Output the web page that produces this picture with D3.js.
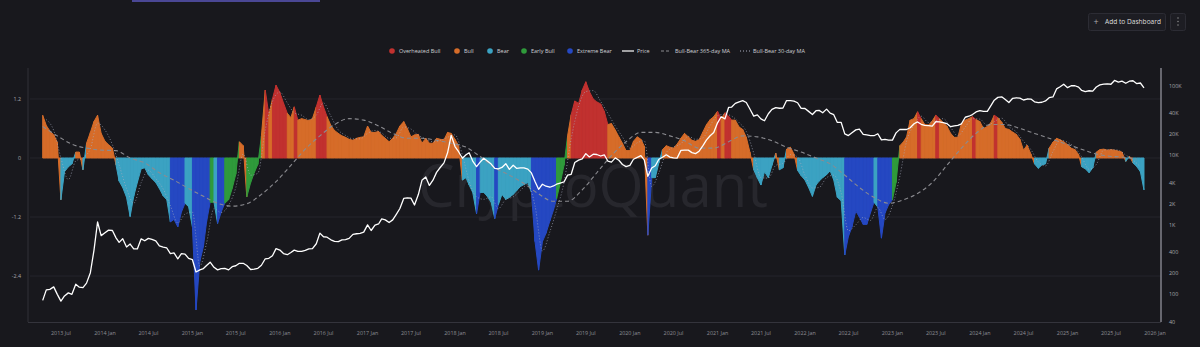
<!DOCTYPE html>
<html><head><meta charset="utf-8">
<script src="https://cdn.jsdelivr.net/npm/d3@7"></script>
<style>html,body{margin:0;padding:0;background:#18181d;overflow:hidden}</style>
</head><body><svg id="c" width="1200" height="347"></svg>
<script>
// Bull-Bear indicator, semi-monthly (16th / 1st), starting 2013-04-16
const indicatorValues = [
0.87,0.66,0.55,0.47,0.32,-0.85,-0.28,-0.18,-0.12,0.12,
0.12,-0.24,0.3,0.52,0.74,0.87,0.5,0.34,0.27,0.2,
-0.14,-0.47,-0.6,-0.8,-1.19,-0.78,-0.5,-0.22,-0.2,-0.34,
-0.42,-0.5,-0.62,-0.77,-0.85,-1.3,-1.25,-1.4,-1.1,-0.92,
-0.99,-1.4,-3.09,-2.1,-1.8,-1.3,-0.9,-0.9,-1.33,-1.1,
-0.92,-0.85,-0.62,-0.33,0.33,0.25,-0.79,-0.5,-0.3,-0.13,
0.45,1.38,0.88,1.2,1.48,1.33,1.12,0.91,0.82,1.04,
0.77,0.8,0.78,0.76,0.8,1.04,1.28,1.04,0.84,0.66,
0.56,0.5,0.45,0.42,0.38,0.36,0.4,0.42,0.43,0.65,
0.52,0.52,0.54,0.46,0.4,0.33,0.4,0.5,0.65,0.74,
0.6,0.43,0.47,0.48,0.3,0.4,0.3,0.3,0.4,0.38,
0.37,0.52,0.5,0.38,0.25,-0.45,-0.4,-0.55,-0.7,-1.13,
-0.7,-0.7,-0.78,-0.9,-1.23,-0.95,-0.74,-0.84,-0.8,-0.74,
-0.66,-0.58,-0.54,-0.5,-0.7,-1.7,-2.28,-1.7,-1.53,-1.28,
-1.06,-0.83,-0.52,-0.15,0.45,0.88,1.16,1.11,1.38,1.55,
1.35,1.2,1.14,1.1,0.95,0.68,0.7,0.57,0.43,0.3,
0.15,0.15,0.34,0.43,0.38,0.24,-1.57,-0.4,-0.4,-0.1,
0.17,0.25,0.22,0.2,0.28,0.4,0.5,0.43,0.36,0.34,
0.37,0.53,0.68,0.78,0.84,0.95,0.8,0.92,0.85,0.77,
0.77,0.63,0.58,0.42,0.12,-0.24,-0.4,-0.55,-0.28,-0.4,
-0.15,0.1,-0.24,-0.2,0.18,0.22,0.08,-0.25,-0.36,-0.45,
-0.6,-0.78,-0.55,-0.47,-0.4,-0.34,-0.26,-0.45,-0.8,-0.87,
-1.97,-1.6,-1.4,-1.08,-1.2,-1.35,-1.35,-1.12,-0.9,-1.0,
-1.63,-1.12,-0.95,-0.85,-0.5,0.25,0.33,0.43,0.77,0.8,
0.94,0.8,0.68,0.67,0.75,0.87,0.8,0.72,0.65,0.5,
0.42,0.42,0.7,0.77,0.8,0.84,0.78,0.74,0.6,0.64,
0.72,0.87,0.82,0.73,0.6,0.58,0.53,0.48,0.38,0.16,
0.26,0.08,-0.12,-0.21,-0.14,-0.12,0.2,0.32,0.4,0.37,
0.33,0.27,0.2,0.17,0.07,-0.18,-0.22,-0.3,-0.2,0.12,
0.17,0.18,0.16,0.17,0.16,0.14,0.12,-0.07,0.04,-0.1,
-0.17,-0.28,-0.65];
// O = Overheated Bull, B = Bull, R = Bear, E = Early Bull, X = Extreme Bear
const regimeCodes =
"BBBBBRRRRB"+"BRBBBBBBBB"+"RRRRRRRRRR"+"RRRRRXXXXR"+"RXXXXXERXX"+
"EEEEBBEEEE"+"BOBOOOOBBO"+"BBBBBOOOBB"+"BBBBBBBBBB"+"BBBBBBBBBB"+
"BBBBBBBBBB"+"BBBBBRRRRX"+"RRRRXRRRRR"+"RRRRXXXXXX"+"XEEEBOOOOO"+
"OOOOOBBBBB"+"BBBBBBXRRR"+"BBBBBBBBBB"+"BBBBBOBOOB"+"BBBBBRRRRR"+
"RBRRBBBRRR"+"RRRRRRRRRR"+"XXXXXXXXRX"+"XXXEEBBBBB"+"OBBBBOBBBB"+
"BBBBBOBBBB"+"BOBBBBBBBB"+"BBRRRRBBBB"+"BBBBBRRRRB"+"BBBBBBBRBR"+"RRR";
// BTC price, same semi-monthly dates
const priceValues = [
82,116,118,128,100,80,95,105,100,140,127,125,145,205,430,1100,700,
770,840,830,650,560,630,480,530,450,450,630,590,640,620,590,500,480,465,385,395,325,385,380,330,
315,210,225,235,260,290,245,225,235,237,225,250,258,280,280,260,228,230,237,262,325,330,360,455,
434,387,372,400,433,415,416,430,450,455,535,760,675,665,610,580,575,608,615,640,730,745,755,785,
1000,830,990,1030,1220,1180,1080,1180,1420,1720,2400,2450,2430,1930,2730,4380,4900,3700,4400,5700,6750,7800,10900,19400,
13400,11300,9100,10200,10900,8300,6900,8000,9100,8300,7500,6500,6400,6700,7600,6300,7200,6500,6600,6600,6350,5600,4200,3250,
3850,3600,3480,3630,3850,4000,4150,5200,5350,7900,8550,8900,10600,9500,10400,10300,9800,10200,8300,8000,9200,8500,7400,6900,
7200,8800,9350,9900,8600,5000,6600,7100,8800,9400,10200,9450,9230,9130,11800,11900,11900,10950,10600,11500,13800,16700,19200,21300,
29400,36000,33500,49000,49600,56000,59000,61500,57800,46500,36700,38300,33500,31500,39800,45900,48800,47700,48100,61500,61300,60300,57200,47600,
47300,43000,38700,44000,44400,41100,46300,40500,38500,29800,29800,20400,19300,21200,23300,23900,20100,19700,19300,19200,20500,16700,17000,16600,
16600,21100,23700,23600,23600,25000,28500,30300,28000,27000,26800,26300,30500,30300,29700,28700,25900,26600,27000,28500,35400,36600,38700,42200,
44200,43100,43100,52100,62400,68400,69700,63800,57700,66000,67500,66600,62700,64800,64600,59000,57300,58200,60800,67600,69500,90600,97200,106000,
94400,100500,100600,96100,86000,82600,85200,84000,96500,103500,105800,106800,105700,119800,113300,117400,109200,116800,118600,108200,110100,94000];
// Bull-Bear 30-day MA, monthly from 2013-05-01
const ma30Values = [
0.78,0.56,0.0,-0.44,-0.06,0.0,0.19,0.71,0.57,0.27,
-0.14,-0.62,-0.92,-0.5,-0.25,-0.42,-0.63,-0.97,-1.32,-1.14,
-1.1,-2.2,-1.73,-1.03,-1.11,-0.96,-0.6,0.08,-0.35,-0.31,
0.57,1.15,1.34,1.12,0.92,0.87,0.78,0.87,1.12,0.85,
0.57,0.46,0.39,0.39,0.5,0.56,0.51,0.4,0.41,0.63,
0.59,0.46,0.39,0.33,0.36,0.42,0.47,0.06,-0.47,-0.79,
-0.84,-0.79,-1.03,-0.84,-0.79,-0.66,-0.54,-0.97,-1.89,-1.5,
-1.06,-0.5,0.39,1.05,1.35,1.37,1.15,0.91,0.65,0.43,
0.2,0.31,0.35,-0.58,-0.3,0.11,0.22,0.29,0.44,0.38,
0.41,0.66,0.86,0.89,0.85,0.72,0.54,0.1,-0.4,-0.41,
-0.15,-0.11,0.07,0.02,-0.35,-0.61,-0.6,-0.4,-0.35,-0.71,
-1.48,-1.36,-1.21,-1.27,-1.01,-1.25,-0.97,-0.37,0.34,0.67,
0.85,0.72,0.76,0.8,0.62,0.45,0.63,0.8,0.79,0.66,
0.74,0.81,0.64,0.53,0.34,0.17,-0.08,-0.16,0.13,0.36,
0.32,0.21,0.02,-0.23,-0.13,0.16,0.17,0.16,0.06,-0.04,
-0.18];
// Bull-Bear 365-day MA, every two months from 2013-04-16
const ma365Values = [
0.64,0.45,0.28,0.2,0.16,0.15,0.0,-0.1,-0.3,-0.45,
-0.62,-0.78,-0.92,-0.98,-0.93,-0.74,-0.48,-0.15,0.18,0.45,
0.68,0.8,0.77,0.65,0.5,0.4,0.4,0.36,0.3,0.22,
0.03,-0.2,-0.35,-0.52,-0.73,-0.88,-0.88,-0.65,-0.3,0.05,
0.33,0.52,0.52,0.45,0.35,0.2,0.2,0.33,0.45,0.43,
0.35,0.22,0.12,0.0,-0.12,-0.35,-0.6,-0.8,-0.92,-0.85,
-0.72,-0.5,-0.15,0.2,0.5,0.68,0.68,0.6,0.5,0.4,
0.3,0.2,0.1,0.04,0.02,-0.02];
const indicatorTicks = [1.2, 0, -1.2, -2.4];
const indicatorTickLabels = ["1.2", "0", "-1.2", "-2.4"];
const priceTicks = [100000, 40000, 20000, 10000, 4000, 2000, 1000, 400, 200, 100, 40];
const priceTickLabels = ["100K", "40K", "20K", "10K", "4K", "2K", "1K", "400", "200", "100", "40"];
const legendLabels = ["Overheated Bull", "Bull", "Bear", "Early Bull", "Extreme Bear", "Price", "Bull-Bear 365-day MA", "Bull-Bear 30-day MA"];

const regimeColor = {O: "#c1312f", B: "#d66c29", R: "#3ba2c2", E: "#2f9a3b", X: "#2548c2"};

const semiDate = i => new Date(2013, 3 + Math.floor((i + 1) / 2), (i % 2 === 0) ? 16 : 1);
const bars = indicatorValues.map((v, i) => ({d: semiDate(i), v, r: regimeCodes[i]}));
const prices = priceValues.map((p, i) => ({d: semiDate(i), p}));
const ma30 = ma30Values.map((v, m) => ({d: new Date(2013, 4 + m, 1), v}));
const ma365 = ma365Values.map((v, k) => ({d: semiDate(4 * k), v}));

const svg = d3.select("#c");
const FONT = "'Open Sans', 'DejaVu Sans', sans-serif";
const L = 30, R = 1161, T = 68, B = 322;

const x = d3.scaleTime().domain([new Date(2013, 1, 22), new Date(2026, 0, 26)]).range([L, R]);
const yI = d3.scaleLinear().domain([-3.335, 1.83]).range([B, T]);
const yP = d3.scaleLog().domain([40, 200000]).range([B, 65]);

svg.append("rect").attr("width", 1200).attr("height", 347).attr("fill", "#18181d");

// top tab indicator
svg.append("rect").attr("x", 132).attr("y", 0).attr("width", 188).attr("height", 2).attr("fill", "#4a4795");

// Add to Dashboard button
const btn = svg.append("g");
btn.append("rect").attr("x", 1088.5).attr("y", 13.5).attr("width", 77).attr("height", 17).attr("rx", 2)
  .attr("fill", "#1d1d23").attr("stroke", "#2c2c34");
btn.append("text").attr("x", 1096).attr("y", 24.5).attr("text-anchor", "middle").attr("fill", "#aaa")
  .attr("font-family", FONT).attr("font-size", 9).text("+");
btn.append("text").attr("x", 1105).attr("y", 24).attr("fill", "#ddd")
  .attr("font-family", FONT).attr("font-size", 6.6).text("Add to Dashboard");
btn.append("rect").attr("x", 1170.5).attr("y", 13.5).attr("width", 15).attr("height", 17).attr("rx", 2)
  .attr("fill", "#1d1d23").attr("stroke", "#2c2c34");
[18, 21.5, 25].forEach(yy => btn.append("circle").attr("cx", 1178).attr("cy", yy).attr("r", 0.7).attr("fill", "#999"));

// gridlines
svg.append("g").selectAll("line").data(indicatorTicks).join("line")
  .attr("x1", L).attr("x2", R).attr("y1", d => yI(d)).attr("y2", d => yI(d))
  .attr("stroke", "#25252c").attr("stroke-width", 1);

// watermark
svg.append("text").attr("x", 418).attr("y", 207).attr("font-family", "'Open Sans', sans-serif")
  .attr("font-size", 60).attr("fill", "#27272d").attr("textLength", 350).attr("lengthAdjust", "spacingAndGlyphs")
  .text("CryptoQuant");

// bars as colored area segments
const area = d3.area().x(d => x(d.d)).y0(yI(0)).y1(d => yI(d.v));
const segG = svg.append("g");
for (let i = 0; i < bars.length - 1; i++) {
  const c = regimeColor[bars[i].r];
  segG.append("path").attr("d", area([bars[i], bars[i + 1]]))
    .attr("fill", c).attr("stroke", c).attr("stroke-width", 1).attr("stroke-linejoin", "round");
}

// 365-day MA
svg.append("path").datum(ma365).attr("fill", "none").attr("stroke", "#8b8b90").attr("stroke-width", 1.1)
  .attr("stroke-dasharray", "4,3")
  .attr("d", d3.line().x(d => x(d.d)).y(d => yI(d.v)).curve(d3.curveMonotoneX));

// 30-day MA
svg.append("path").datum(ma30).attr("fill", "none").attr("stroke", "#a9adc0").attr("stroke-width", 0.9)
  .attr("stroke-dasharray", "1,2").attr("opacity", 0.75)
  .attr("d", d3.line().x(d => x(d.d)).y(d => yI(d.v)).curve(d3.curveMonotoneX));

// price
svg.append("path").datum(prices).attr("fill", "none").attr("stroke", "#ffffff").attr("stroke-width", 1.3)
  .attr("stroke-linejoin", "round")
  .attr("d", d3.line().x(d => x(d.d)).y(d => yP(d.p)));

// axes lines
svg.append("line").attr("x1", L - 2).attr("x2", L - 2).attr("y1", T).attr("y2", B).attr("stroke", "#303038");
svg.append("line").attr("x1", L - 2).attr("x2", R).attr("y1", B + 0.5).attr("y2", B + 0.5).attr("stroke", "#34343c");
svg.append("line").attr("x1", R).attr("x2", R).attr("y1", T).attr("y2", B).attr("stroke", "#7c7c84").attr("stroke-width", 1.6);

// left labels
svg.append("g").selectAll("text").data(indicatorTicks).join("text")
  .attr("x", 21).attr("y", d => yI(d) + 1.9).attr("text-anchor", "end")
  .attr("font-family", FONT).attr("font-size", 5.4).attr("fill", "#a8a8ae")
  .text((d, i) => indicatorTickLabels[i]);

// right labels
svg.append("g").selectAll("text").data(priceTicks).join("text")
  .attr("x", 1169).attr("y", d => yP(d) + 1.9)
  .attr("font-family", FONT).attr("font-size", 5.4).attr("fill", "#a8a8ae")
  .text((d, i) => priceTickLabels[i]);

// x labels
const fmt = d3.timeFormat("%Y %b");
const xt = x.ticks(d3.timeMonth.every(6));
svg.append("g").selectAll("text").data(xt).join("text")
  .attr("x", d => x(d)).attr("y", 335).attr("text-anchor", "middle")
  .attr("font-family", FONT).attr("font-size", 5.4).attr("fill", "#8e8e95")
  .text(d => fmt(d));

// legend
const lg = svg.append("g").attr("font-family", FONT).attr("font-size", 5.5).attr("fill", "#cfcfd4");
const circleItems = [
  {k: "O", cx: 392, tx: 399, label: legendLabels[0]},
  {k: "B", cx: 457, tx: 464, label: legendLabels[1]},
  {k: "R", cx: 490, tx: 497, label: legendLabels[2]},
  {k: "E", cx: 524, tx: 531, label: legendLabels[3]},
  {k: "X", cx: 570, tx: 577, label: legendLabels[4]}
];
circleItems.forEach(it => {
  lg.append("circle").attr("cx", it.cx).attr("cy", 51).attr("r", 2.8).attr("fill", regimeColor[it.k]);
  lg.append("text").attr("x", it.tx).attr("y", 53).text(it.label);
});
lg.append("line").attr("x1", 622).attr("x2", 634).attr("y1", 51).attr("y2", 51).attr("stroke", "#fff").attr("stroke-width", 1.2);
lg.append("text").attr("x", 637).attr("y", 53).text(legendLabels[5]);
lg.append("line").attr("x1", 661).attr("x2", 671).attr("y1", 51).attr("y2", 51).attr("stroke", "#8b8b90").attr("stroke-width", 1).attr("stroke-dasharray", "3,2");
lg.append("text").attr("x", 675).attr("y", 53).text(legendLabels[6]);
lg.append("line").attr("x1", 740).attr("x2", 750).attr("y1", 51).attr("y2", 51).attr("stroke", "#a9adc0").attr("stroke-width", 1).attr("stroke-dasharray", "1,2");
lg.append("text").attr("x", 753).attr("y", 53).text(legendLabels[7]);
</script></body></html>
